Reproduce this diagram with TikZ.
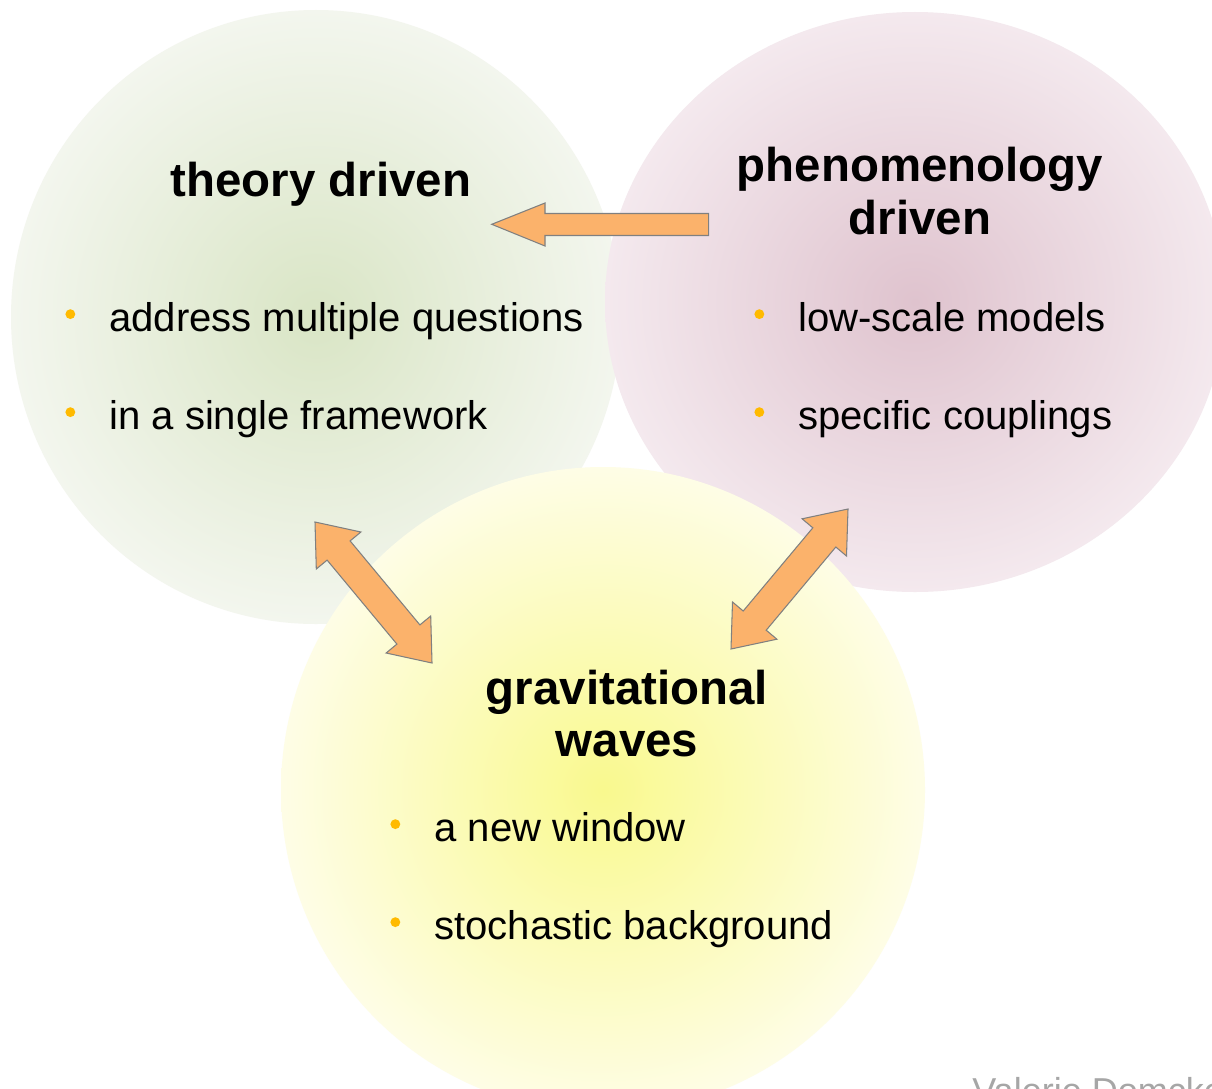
\documentclass[tikz,border=0pt]{standalone}
\usepackage{fontspec}
\setmainfont{Liberation Sans}
\usetikzlibrary{positioning}

\definecolor{theoryin}{HTML}{D9E5C5}
\definecolor{theoryout}{HTML}{F3F6EE}
\definecolor{phenoin}{HTML}{DFC3CE}
\definecolor{phenoout}{HTML}{F4E9EE}
\definecolor{gwin}{HTML}{F9F98E}
\definecolor{gwout}{HTML}{FEFDE6}
\definecolor{arroworange}{HTML}{FBB26B}
\definecolor{arrowgray}{HTML}{808080}
\definecolor{bulletorange}{HTML}{FFBA00}

\begin{document}
\begin{tikzpicture}[x=0.02cm,y=-0.02cm,
  every node/.style={inner sep=0pt},
  title/.style={font=\fontsize{27}{29.6}\selectfont\bfseries,align=center,anchor=base},
  item/.style={font=\fontsize{22.8}{26}\selectfont,anchor=base west},
  dot/.style={circle,fill=bulletorange,minimum size=5.6pt},
  blockarrow/.style={fill=arroworange,draw=arrowgray,line width=0.6pt}]

  \path[use as bounding box,clip] (0,0) rectangle (1212,1088);
  \fill[white] (0,0) rectangle (1212,1088);

  % the three fields
  \shade[inner color=theoryin,outer color=theoryout] (316,317) ellipse [x radius=305,y radius=307];
  \shade[inner color=phenoin,outer color=phenoout] (915,302) ellipse [x radius=310,y radius=290];
  \shade[inner color=gwin,outer color=gwout] (603,790) ellipse [x radius=322,y radius=323];

  % titles (base = last line)
  \node[title] (theory) at (321,196) {theory driven};
  \node[title] (pheno) at (920,234) {phenomenology\\driven};
  \node[title] (gw) at (627,756) {gravitational\\waves};

  % bullet items
  \node[item] (t1) at (109,331) {address multiple questions};
  \node[item] (t2) at (109,429) {in a single framework};
  \node[item] (p1) at (798,331) {low-scale models};
  \node[item] (p2) at (798,429) {specific couplings};
  \node[item] (g1) at (434,841) {a new window};
  \node[item] (g2) at (434,939) {stochastic background};
  \foreach \it in {t1,t2,p1,p2,g1,g2}
    \node[dot,left=19pt of \it.base west,yshift=9.6pt] (dot\it) {};

  % arrows between the fields
  \coordinate (pt) at (491.7,224.3);
  \coordinate (tg) at (315,522);
  \coordinate (gt) at (432,663);
  \coordinate (pg) at (848,509);
  \coordinate (gp) at (731,649);
  \draw[blockarrow] (pt) -- (545,203) -- (545,213.5) -- (708.7,213.5)
    -- (708.7,235.5) -- (545,235.5) -- (545,246) -- cycle;
  \draw[blockarrow] (tg) -- (360.9,532.0) -- (350.1,540.9) -- (419.9,624.9)
    -- (430.7,616.0) -- (gt) -- (386.1,653.0) -- (396.9,644.1)
    -- (327.1,560.1) -- (316.3,569.0) -- cycle;
  \draw[blockarrow] (pg) -- (846.5,556.0) -- (835.8,547.0) -- (766.2,630.2)
    -- (776.9,639.2) -- (gp) -- (732.5,602.0) -- (743.2,611.0)
    -- (812.8,527.8) -- (802.1,518.8) -- cycle;

  \node[font=\fontsize{20.5}{24}\selectfont,text=black!35,anchor=base west] (author) at (972,1103) {Valerie Domcke};
\end{tikzpicture}
\end{document}
